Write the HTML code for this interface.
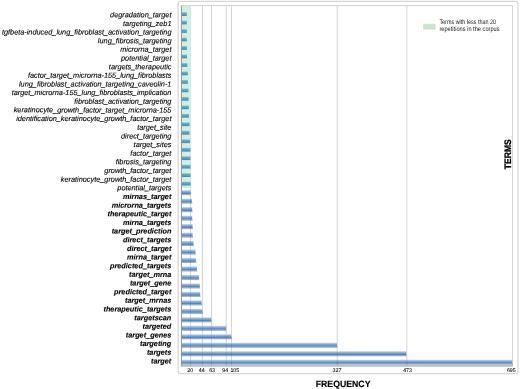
<!DOCTYPE html>
<html><head><meta charset="utf-8"><title>Term frequency chart</title>
<style>
html,body{margin:0;padding:0;background:#fff;}
body{width:520px;height:389px;overflow:hidden;}
svg{display:block;font-family:"Liberation Sans",sans-serif;text-rendering:geometricPrecision;}
.yl{font-style:italic;font-size:7.32px;fill:#000;text-anchor:end;stroke:#000;stroke-width:0.12px;}
.yb{font-weight:bold;}
.tk{font-size:5.3px;fill:#000;text-anchor:middle;stroke:#000;stroke-width:0.06px;}
.ax{font-weight:bold;font-size:8.8px;fill:#000;}
.lg{font-size:6.6px;fill:#1a1a1a;}
</style></head><body>
<svg width="520" height="389" viewBox="0 0 520 389">
<defs>
<linearGradient id="gb" x1="0" y1="0" x2="0" y2="1">
<stop offset="0" stop-color="#cbdef4"/><stop offset="0.3" stop-color="#90b8e4"/><stop offset="0.6" stop-color="#6b9cd7"/><stop offset="0.85" stop-color="#5584c3"/><stop offset="1" stop-color="#4a75ad"/>
</linearGradient>
<linearGradient id="gt" x1="0" y1="0" x2="0" y2="1">
<stop offset="0" stop-color="#92ccd9"/><stop offset="0.3" stop-color="#5eaac7"/><stop offset="0.7" stop-color="#4f9cba"/><stop offset="1" stop-color="#4489a3"/>
</linearGradient>
</defs>
<rect x="0" y="0" width="520" height="389" fill="#ffffff"/>

<rect x="178.2" y="1.3" width="339.7" height="372.3" rx="2" ry="2" fill="#fff" stroke="#d6d6d6" stroke-width="1.2"/>
<line x1="181.5" y1="5.6" x2="512.6" y2="5.6" stroke="#cfcfcf" stroke-width="1"/>
<line x1="190.50" y1="5.6" x2="190.50" y2="365.6" stroke="#d0d0d0" stroke-width="0.9"/>
<line x1="202.46" y1="5.6" x2="202.46" y2="365.6" stroke="#d0d0d0" stroke-width="0.9"/>
<line x1="211.51" y1="5.6" x2="211.51" y2="365.6" stroke="#d0d0d0" stroke-width="0.9"/>
<line x1="226.27" y1="5.6" x2="226.27" y2="365.6" stroke="#d0d0d0" stroke-width="0.9"/>
<line x1="231.51" y1="5.6" x2="231.51" y2="365.6" stroke="#d0d0d0" stroke-width="0.9"/>
<line x1="337.25" y1="5.6" x2="337.25" y2="365.6" stroke="#d0d0d0" stroke-width="0.9"/>
<line x1="406.79" y1="5.6" x2="406.79" y2="365.6" stroke="#d0d0d0" stroke-width="0.9"/>
<line x1="512.53" y1="5.6" x2="512.53" y2="365.6" stroke="#d0d0d0" stroke-width="0.9"/>
<rect x="181.5" y="5.6" width="9.2" height="182.5" fill="#d1eee1"/><rect x="190" y="5.6" width="1" height="182.5" fill="#d1eee1" opacity="0.6"/>
<rect x="181.50" y="12.15" width="5.30" height="3.80" fill="url(#gt)"/>
<rect x="181.50" y="20.63" width="5.30" height="3.80" fill="url(#gt)"/>
<rect x="181.50" y="29.10" width="5.30" height="3.80" fill="url(#gt)"/>
<rect x="181.50" y="37.58" width="5.30" height="3.80" fill="url(#gt)"/>
<rect x="181.50" y="46.06" width="5.40" height="3.80" fill="url(#gt)"/>
<rect x="181.50" y="54.54" width="5.50" height="3.80" fill="url(#gt)"/>
<rect x="181.50" y="63.01" width="5.90" height="3.80" fill="url(#gt)"/>
<rect x="181.50" y="71.49" width="6.30" height="3.80" fill="url(#gt)"/>
<rect x="181.50" y="79.97" width="6.30" height="3.80" fill="url(#gt)"/>
<rect x="181.50" y="88.44" width="6.90" height="3.80" fill="url(#gt)"/>
<rect x="181.50" y="96.92" width="7.10" height="3.80" fill="url(#gt)"/>
<rect x="181.50" y="105.40" width="7.30" height="3.80" fill="url(#gt)"/>
<rect x="181.50" y="113.87" width="7.50" height="3.80" fill="url(#gt)"/>
<rect x="181.50" y="122.35" width="8.00" height="3.80" fill="url(#gt)"/>
<rect x="181.50" y="130.83" width="8.00" height="3.80" fill="url(#gt)"/>
<rect x="181.50" y="139.31" width="8.50" height="3.80" fill="url(#gt)"/>
<rect x="181.50" y="147.78" width="8.80" height="3.80" fill="url(#gt)"/>
<rect x="181.50" y="156.26" width="8.90" height="3.80" fill="url(#gt)"/>
<rect x="181.50" y="164.74" width="9.00" height="3.80" fill="url(#gt)"/>
<rect x="181.50" y="173.21" width="9.00" height="3.80" fill="url(#gt)"/>
<rect x="181.50" y="181.69" width="9.10" height="3.80" fill="url(#gt)"/>
<rect x="181.90" y="193.92" width="9.00" height="1.3" fill="#8f98a8" opacity="0.8"/>
<rect x="181.50" y="190.12" width="9.00" height="3.90" fill="url(#gb)"/>
<rect x="181.90" y="202.39" width="10.40" height="1.3" fill="#8f98a8" opacity="0.8"/>
<rect x="181.50" y="198.59" width="10.40" height="3.90" fill="url(#gb)"/>
<rect x="181.90" y="210.87" width="10.70" height="1.3" fill="#8f98a8" opacity="0.8"/>
<rect x="181.50" y="207.07" width="10.70" height="3.90" fill="url(#gb)"/>
<rect x="181.90" y="219.35" width="10.70" height="1.3" fill="#8f98a8" opacity="0.8"/>
<rect x="181.50" y="215.55" width="10.70" height="3.90" fill="url(#gb)"/>
<rect x="181.90" y="227.83" width="11.10" height="1.3" fill="#8f98a8" opacity="0.8"/>
<rect x="181.50" y="224.03" width="11.10" height="3.90" fill="url(#gb)"/>
<rect x="181.90" y="236.30" width="11.10" height="1.3" fill="#8f98a8" opacity="0.8"/>
<rect x="181.50" y="232.50" width="11.10" height="3.90" fill="url(#gb)"/>
<rect x="181.90" y="244.78" width="12.00" height="1.3" fill="#8f98a8" opacity="0.8"/>
<rect x="181.50" y="240.98" width="12.00" height="3.90" fill="url(#gb)"/>
<rect x="181.90" y="253.26" width="14.00" height="1.3" fill="#8f98a8" opacity="0.8"/>
<rect x="181.50" y="249.46" width="14.00" height="3.90" fill="url(#gb)"/>
<rect x="181.90" y="261.73" width="14.40" height="1.3" fill="#8f98a8" opacity="0.8"/>
<rect x="181.50" y="257.93" width="14.40" height="3.90" fill="url(#gb)"/>
<rect x="181.90" y="270.21" width="15.40" height="1.3" fill="#8f98a8" opacity="0.8"/>
<rect x="181.50" y="266.41" width="15.40" height="3.90" fill="url(#gb)"/>
<rect x="181.90" y="278.69" width="17.40" height="1.3" fill="#8f98a8" opacity="0.8"/>
<rect x="181.50" y="274.89" width="17.40" height="3.90" fill="url(#gb)"/>
<rect x="181.90" y="287.16" width="18.30" height="1.3" fill="#8f98a8" opacity="0.8"/>
<rect x="181.50" y="283.36" width="18.30" height="3.90" fill="url(#gb)"/>
<rect x="181.90" y="295.64" width="18.70" height="1.3" fill="#8f98a8" opacity="0.8"/>
<rect x="181.50" y="291.84" width="18.70" height="3.90" fill="url(#gb)"/>
<rect x="181.90" y="304.12" width="20.10" height="1.3" fill="#8f98a8" opacity="0.8"/>
<rect x="181.50" y="300.32" width="20.10" height="3.90" fill="url(#gb)"/>
<rect x="181.90" y="312.59" width="21.00" height="1.3" fill="#8f98a8" opacity="0.8"/>
<rect x="181.50" y="308.80" width="21.00" height="3.90" fill="url(#gb)"/>
<rect x="181.90" y="321.07" width="29.90" height="1.3" fill="#8f98a8" opacity="0.8"/>
<rect x="181.50" y="317.27" width="29.90" height="3.90" fill="url(#gb)"/>
<rect x="181.90" y="329.55" width="44.60" height="1.3" fill="#8f98a8" opacity="0.8"/>
<rect x="181.50" y="325.75" width="44.60" height="3.90" fill="url(#gb)"/>
<rect x="181.90" y="338.03" width="50.00" height="1.3" fill="#8f98a8" opacity="0.8"/>
<rect x="181.50" y="334.23" width="50.00" height="3.90" fill="url(#gb)"/>
<rect x="181.90" y="346.50" width="155.50" height="1.3" fill="#8f98a8" opacity="0.8"/>
<rect x="181.50" y="342.70" width="155.50" height="3.90" fill="url(#gb)"/>
<rect x="181.90" y="354.98" width="224.80" height="1.3" fill="#8f98a8" opacity="0.8"/>
<rect x="181.50" y="351.18" width="224.80" height="3.90" fill="url(#gb)"/>
<rect x="181.90" y="363.46" width="330.80" height="1.3" fill="#8f98a8" opacity="0.8"/>
<rect x="181.50" y="359.66" width="330.80" height="3.90" fill="url(#gb)"/>
<line x1="190.50" y1="198.59" x2="190.50" y2="203.49" stroke="#000" stroke-opacity="0.09" stroke-width="0.9"/>
<line x1="190.50" y1="207.07" x2="190.50" y2="211.97" stroke="#000" stroke-opacity="0.09" stroke-width="0.9"/>
<line x1="190.50" y1="215.55" x2="190.50" y2="220.45" stroke="#000" stroke-opacity="0.09" stroke-width="0.9"/>
<line x1="190.50" y1="224.03" x2="190.50" y2="228.93" stroke="#000" stroke-opacity="0.09" stroke-width="0.9"/>
<line x1="190.50" y1="232.50" x2="190.50" y2="237.40" stroke="#000" stroke-opacity="0.09" stroke-width="0.9"/>
<line x1="190.50" y1="240.98" x2="190.50" y2="245.88" stroke="#000" stroke-opacity="0.09" stroke-width="0.9"/>
<line x1="190.50" y1="249.46" x2="190.50" y2="254.36" stroke="#000" stroke-opacity="0.09" stroke-width="0.9"/>
<line x1="190.50" y1="257.93" x2="190.50" y2="262.83" stroke="#000" stroke-opacity="0.09" stroke-width="0.9"/>
<line x1="190.50" y1="266.41" x2="190.50" y2="271.31" stroke="#000" stroke-opacity="0.09" stroke-width="0.9"/>
<line x1="190.50" y1="274.89" x2="190.50" y2="279.79" stroke="#000" stroke-opacity="0.09" stroke-width="0.9"/>
<line x1="190.50" y1="283.36" x2="190.50" y2="288.26" stroke="#000" stroke-opacity="0.09" stroke-width="0.9"/>
<line x1="190.50" y1="291.84" x2="190.50" y2="296.74" stroke="#000" stroke-opacity="0.09" stroke-width="0.9"/>
<line x1="190.50" y1="300.32" x2="190.50" y2="305.22" stroke="#000" stroke-opacity="0.09" stroke-width="0.9"/>
<line x1="190.50" y1="308.80" x2="190.50" y2="313.69" stroke="#000" stroke-opacity="0.09" stroke-width="0.9"/>
<line x1="190.50" y1="317.27" x2="190.50" y2="322.17" stroke="#000" stroke-opacity="0.09" stroke-width="0.9"/>
<line x1="202.46" y1="317.27" x2="202.46" y2="322.17" stroke="#000" stroke-opacity="0.09" stroke-width="0.9"/>
<line x1="190.50" y1="325.75" x2="190.50" y2="330.65" stroke="#000" stroke-opacity="0.09" stroke-width="0.9"/>
<line x1="202.46" y1="325.75" x2="202.46" y2="330.65" stroke="#000" stroke-opacity="0.09" stroke-width="0.9"/>
<line x1="211.51" y1="325.75" x2="211.51" y2="330.65" stroke="#000" stroke-opacity="0.09" stroke-width="0.9"/>
<line x1="190.50" y1="334.23" x2="190.50" y2="339.13" stroke="#000" stroke-opacity="0.09" stroke-width="0.9"/>
<line x1="202.46" y1="334.23" x2="202.46" y2="339.13" stroke="#000" stroke-opacity="0.09" stroke-width="0.9"/>
<line x1="211.51" y1="334.23" x2="211.51" y2="339.13" stroke="#000" stroke-opacity="0.09" stroke-width="0.9"/>
<line x1="226.27" y1="334.23" x2="226.27" y2="339.13" stroke="#000" stroke-opacity="0.09" stroke-width="0.9"/>
<line x1="190.50" y1="342.70" x2="190.50" y2="347.60" stroke="#000" stroke-opacity="0.09" stroke-width="0.9"/>
<line x1="202.46" y1="342.70" x2="202.46" y2="347.60" stroke="#000" stroke-opacity="0.09" stroke-width="0.9"/>
<line x1="211.51" y1="342.70" x2="211.51" y2="347.60" stroke="#000" stroke-opacity="0.09" stroke-width="0.9"/>
<line x1="226.27" y1="342.70" x2="226.27" y2="347.60" stroke="#000" stroke-opacity="0.09" stroke-width="0.9"/>
<line x1="231.51" y1="342.70" x2="231.51" y2="347.60" stroke="#000" stroke-opacity="0.09" stroke-width="0.9"/>
<line x1="190.50" y1="351.18" x2="190.50" y2="356.08" stroke="#000" stroke-opacity="0.09" stroke-width="0.9"/>
<line x1="202.46" y1="351.18" x2="202.46" y2="356.08" stroke="#000" stroke-opacity="0.09" stroke-width="0.9"/>
<line x1="211.51" y1="351.18" x2="211.51" y2="356.08" stroke="#000" stroke-opacity="0.09" stroke-width="0.9"/>
<line x1="226.27" y1="351.18" x2="226.27" y2="356.08" stroke="#000" stroke-opacity="0.09" stroke-width="0.9"/>
<line x1="231.51" y1="351.18" x2="231.51" y2="356.08" stroke="#000" stroke-opacity="0.09" stroke-width="0.9"/>
<line x1="337.25" y1="351.18" x2="337.25" y2="356.08" stroke="#000" stroke-opacity="0.09" stroke-width="0.9"/>
<line x1="190.50" y1="359.66" x2="190.50" y2="364.56" stroke="#000" stroke-opacity="0.09" stroke-width="0.9"/>
<line x1="202.46" y1="359.66" x2="202.46" y2="364.56" stroke="#000" stroke-opacity="0.09" stroke-width="0.9"/>
<line x1="211.51" y1="359.66" x2="211.51" y2="364.56" stroke="#000" stroke-opacity="0.09" stroke-width="0.9"/>
<line x1="226.27" y1="359.66" x2="226.27" y2="364.56" stroke="#000" stroke-opacity="0.09" stroke-width="0.9"/>
<line x1="231.51" y1="359.66" x2="231.51" y2="364.56" stroke="#000" stroke-opacity="0.09" stroke-width="0.9"/>
<line x1="337.25" y1="359.66" x2="337.25" y2="364.56" stroke="#000" stroke-opacity="0.09" stroke-width="0.9"/>
<line x1="406.79" y1="359.66" x2="406.79" y2="364.56" stroke="#000" stroke-opacity="0.09" stroke-width="0.9"/>
<line x1="181.4" y1="5.6" x2="181.4" y2="366" stroke="#8e9398" stroke-width="1"/>
<line x1="181" y1="365.8" x2="512.8" y2="365.8" stroke="#a6a4a4" stroke-width="1.3"/>
<text class="tk" x="190.3" y="372.3">20</text>
<text class="tk" x="201.7" y="372.3">44</text>
<text class="tk" x="212.1" y="372.3">63</text>
<text class="tk" x="225.2" y="372.3">94</text>
<text class="tk" x="234.8" y="372.3">105</text>
<text class="tk" x="337.0" y="372.3">327</text>
<text class="tk" x="407.6" y="372.3">473</text>
<text class="tk" x="511.3" y="372.3">695</text>
<g transform="rotate(0.03 171 190)">
<text class="yl" x="171.4" y="17.25">degradation_target</text>
<text class="yl" x="171.4" y="25.91">targeting_zeb1</text>
<text class="yl" x="171.4" y="34.56">tgfbeta-induced_lung_fibroblast_activation_targeting</text>
<text class="yl" x="171.4" y="43.21">lung_fibrosis_targeting</text>
<text class="yl" x="171.4" y="51.87">microrna_target</text>
<text class="yl" x="171.4" y="60.52">potential_target</text>
<text class="yl" x="171.4" y="69.18">targets_therapeutic</text>
<text class="yl" x="171.4" y="77.83">factor_target_microrna-155_lung_fibroblasts</text>
<text class="yl" x="171.4" y="86.49">lung_fibroblast_activation_targeting_caveolin-1</text>
<text class="yl" x="171.4" y="95.14">target_microrna-155_lung_fibroblasts_implication</text>
<text class="yl" x="171.4" y="103.80">fibroblast_activation_targeting</text>
<text class="yl" x="171.4" y="112.45">keratinocyte_growth_factor_target_microrna-155</text>
<text class="yl" x="171.4" y="121.11">identification_keratinocyte_growth_factor_target</text>
<text class="yl" x="171.4" y="129.76">target_site</text>
<text class="yl" x="171.4" y="138.42">direct_targeting</text>
<text class="yl" x="171.4" y="147.07">target_sites</text>
<text class="yl" x="171.4" y="155.73">factor_target</text>
<text class="yl" x="171.4" y="164.38">fibrosis_targeting</text>
<text class="yl" x="171.4" y="173.04">growth_factor_target</text>
<text class="yl" x="171.4" y="181.69">keratinocyte_growth_factor_target</text>
<text class="yl" x="171.4" y="190.35">potential_targets</text>
<text class="yl yb" x="171.4" y="199.00">mirnas_target</text>
<text class="yl yb" x="171.4" y="207.66">microrna_targets</text>
<text class="yl yb" x="171.4" y="216.31">therapeutic_target</text>
<text class="yl yb" x="171.4" y="224.97">mirna_targets</text>
<text class="yl yb" x="171.4" y="233.62">target_prediction</text>
<text class="yl yb" x="171.4" y="242.28">direct_targets</text>
<text class="yl yb" x="171.4" y="250.93">direct_target</text>
<text class="yl yb" x="171.4" y="259.59">mirna_target</text>
<text class="yl yb" x="171.4" y="268.25">predicted_targets</text>
<text class="yl yb" x="171.4" y="276.90">target_mrna</text>
<text class="yl yb" x="171.4" y="285.56">target_gene</text>
<text class="yl yb" x="171.4" y="294.21">predicted_target</text>
<text class="yl yb" x="171.4" y="302.86">target_mrnas</text>
<text class="yl yb" x="171.4" y="311.52">therapeutic_targets</text>
<text class="yl yb" x="171.4" y="320.17">targetscan</text>
<text class="yl yb" x="171.4" y="328.83">targeted</text>
<text class="yl yb" x="171.4" y="337.48">target_genes</text>
<text class="yl yb" x="171.4" y="346.14">targeting</text>
<text class="yl yb" x="171.4" y="354.79">targets</text>
<text class="yl yb" x="171.4" y="363.45">target</text>
</g>
<rect x="423.1" y="23.8" width="12.5" height="5.8" fill="#cbe5cc"/>
<text class="lg" x="439.4" y="24.2" textLength="56.6" lengthAdjust="spacingAndGlyphs">Terms with less than 20</text>
<text class="lg" x="439.4" y="30.9" textLength="60.2" lengthAdjust="spacingAndGlyphs">repetitions in the corpus</text>
<text class="ax" x="315.7" y="386.7" style="font-size:9.1px" stroke="#000" stroke-width="0.15" textLength="54.8" lengthAdjust="spacingAndGlyphs">FREQUENCY</text>
<text class="ax" transform="translate(510.7,154.2) rotate(-90)" text-anchor="middle" stroke="#000" stroke-width="0.3" style="font-size:9.4px" textLength="29.9" lengthAdjust="spacingAndGlyphs">TERMS</text>
</svg></body></html>
